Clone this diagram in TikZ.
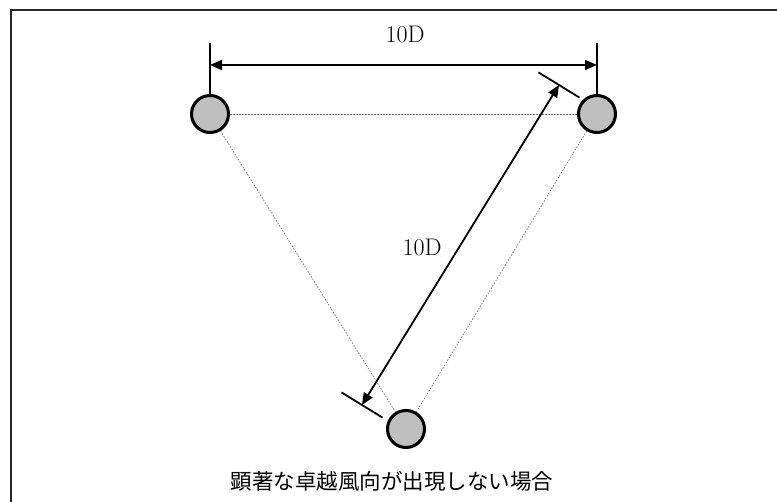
\documentclass[tikz,border=0pt]{standalone}
\usepackage{fontspec}
\newfontfamily\jpfont{Noto Sans CJK JP}
\usetikzlibrary{arrows.meta}
\begin{document}
\begin{tikzpicture}[x=1pt,y=-1pt,
  turbine/.style={circle,draw=black,fill=black!25,line width=3pt,minimum size=37pt,inner sep=0pt},
  dimline/.style={line width=1.8pt,{Triangle[length=12pt,width=10pt]}-{Triangle[length=12pt,width=10pt]}},
  extline/.style={line width=1.8pt},
  guide/.style={draw=black!55,line width=0.7pt,dash pattern=on 1.6pt off 1.4pt},
  dimlabel/.style={font=\fontsize{24}{28}\selectfont,inner sep=0pt},
  caption/.style={font=\jpfont\fontsize{21.5}{26}\selectfont,inner sep=0pt}]
\useasboundingbox (0,0) rectangle (777,502);
% frame
\coordinate (f1) at (11,502);
\coordinate (f2) at (11,10.5);
\coordinate (f3) at (777,10.5);
\draw[line width=2pt,black!85] (f1) -- (f2) -- (f3);
% turbines
\node[turbine] (A) at (210,114) {};
\node[turbine] (B) at (597,114) {};
\node[turbine] (C) at (406,429) {};
% guide lines
\draw[guide] (A) -- (B);
\draw[guide] (A) -- (C);
\draw[guide] (B) -- (C);
% horizontal dimension
\coordinate (e1) at (210,43);
\coordinate (e2) at (597,43);
\coordinate (h1) at (210,65);
\coordinate (h2) at (597,65);
\draw[extline] (e1) -- (A);
\draw[extline] (e2) -- (B);
\draw[dimline] (h1) -- (h2);
\node[dimlabel] (l1) at (405,35) {10D};
% diagonal dimension
\coordinate (d1) at (559,85);
\coordinate (d2) at (362,405);
\coordinate (t1a) at (538.5,72.4);
\coordinate (t1b) at (579.5,97.6);
\coordinate (t2a) at (341.5,392.4);
\coordinate (t2b) at (382.5,417.6);
\draw[extline] (t1a) -- (t1b);
\draw[extline] (t2a) -- (t2b);
\draw[dimline] (d1) -- (d2);
\node[dimlabel] (l2) at (422,247) {10D};
% caption
\node[caption] (cap) at (392,481) {顕著な卓越風向が出現しない場合};
\end{tikzpicture}
\end{document}
